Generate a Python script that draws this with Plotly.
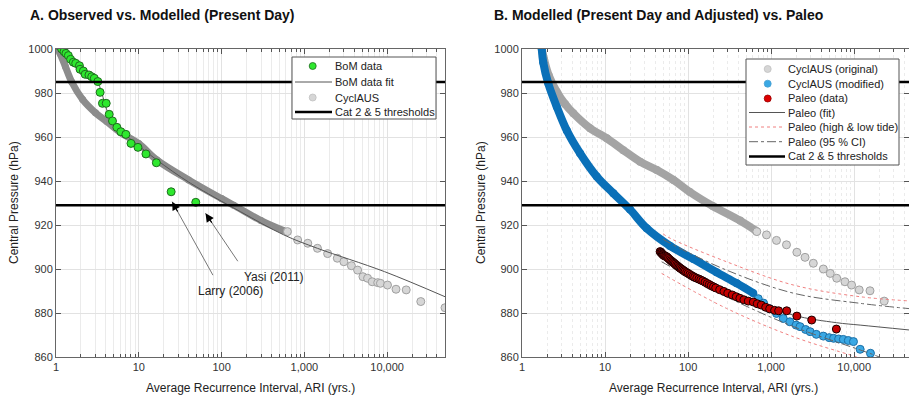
import numpy as np
import plotly.graph_objects as go

FONT = "Liberation Sans"
W, H = 909, 401

# ---------------- data: panel A ----------------
bom_ari = [1.17, 1.25, 1.32, 1.41, 1.5, 1.62, 1.73, 1.92, 1.95, 2.14, 2.25, 2.5, 2.7, 2.9, 3.2,
           3.41, 3.64, 4.04, 4.39, 4.81, 5.44, 6.08, 6.98, 8.05, 9.78, 12.2, 16.3, 24.6, 48.8]
bom_p = [1000, 998.8, 998, 997, 995.3, 994, 993.5, 992.4, 990.8, 990, 988.5, 988.2, 987.4, 986.7, 985.2,
         980.3, 975.3, 975.3, 970.3, 967.3, 964.4, 962.4, 961.2, 957.1, 955.3, 952.3, 948.3, 935.1, 930.3]

bomfit_ari = [1.0, 1.12, 1.62, 2.35, 3.1, 3.58, 4.11, 4.73, 5.97, 8.66, 16.6, 42, 170, 565, 1440, 9300, 50000]
bomfit_p = [1000, 999.5, 994.2, 989.7, 985.9, 979.8, 972.3, 967.7, 963.2, 957.9, 949.5, 939, 926, 915.5, 909.4, 898.8, 887.4]

cycA_band_ari = [1.05, 1.12, 1.3, 1.55, 2.1, 3.0, 4.1, 6, 10, 16.6, 40, 100, 140, 300, 560]
cycA_band_p = [1000, 998, 992, 985, 977, 971, 967, 962, 957, 949.5, 940.5, 932, 929, 922, 917.5]
cycA_pts_ari = [625, 830, 1100, 1440, 1910, 2500, 3000, 3700, 4400, 5100, 5800, 6600, 7700, 8300,
                10100, 12800, 17000, 25500, 50000]
cycA_pts_p = [917, 913.2, 911.7, 909.4, 907, 904.9, 903.3, 901.5, 899.5, 896.5, 895.8, 894.2, 893.8,
              893.5, 892.7, 890.8, 890.5, 885.2, 882.4]

thresholds = [985, 929]

# ---------------- data: panel B ----------------
orig_band_ari = [1.73, 1.85, 2.1, 2.62, 3.3, 4.15, 6.6, 10.5, 16.6, 26.4, 42, 66.5, 105, 200, 423, 650]
orig_band_p = [1000, 995, 988, 980.6, 975, 970.8, 964, 959.4, 954, 948.8, 945, 940.5, 935, 928.5, 922, 917.5]
orig_pts_ari = [672, 880, 1160, 1530, 2040, 2560, 3220, 4250, 5150, 6160, 7740, 9300, 11500, 15500, 23000]
orig_pts_p = [917, 915.5, 913, 911, 907.6, 905.3, 902.6, 900, 898, 895.8, 894.2, 892.7, 890.5, 890.1, 885.4]

mod_band_ari = [1.73, 1.8, 2.07, 2.62, 3.46, 5, 7.95, 12.6, 20, 31.7, 60.6, 116, 220, 385, 610]
mod_band_p = [1000, 994, 984.4, 973.8, 963, 952.6, 942, 934.4, 927, 918.5, 910.5, 904.5, 898.5, 893.5, 889]
mod_pts_ari = [700, 810, 950, 1160, 1400, 1680, 2000, 2230, 2600, 2950, 3500, 4250, 5000, 5650, 6500,
               7400, 8500, 9800, 11800, 15700]
mod_pts_p = [886.5, 884.5, 882, 879.8, 877.5, 876, 874.5, 873.8, 872.5, 871.5, 870.3, 869.5, 868.8, 868.5,
             868.2, 868, 867.5, 867, 863.5, 861.7]

paleo_ari = [46, 47, 48, 49, 50, 51, 52, 53.5, 55, 56.5, 58, 60, 62, 64, 66, 68, 70, 72.5, 75, 77.5, 80,
             83, 86, 89, 92, 96, 100, 105, 110, 115, 120, 127, 135, 142, 150, 160, 170, 180, 190, 202, 215,
             240, 270, 300, 340, 380, 420, 470, 530, 610, 680, 760, 860, 960, 1100, 1230, 1540, 2040, 3080, 6100]
paleo_p = [907.9, 907.6, 907.2, 906.8, 906.5, 906.2, 906, 905.8, 905.6, 905.2, 904.8, 904.3, 903.8, 903.4,
           903, 902.6, 902.2, 901.7, 901.3, 900.8, 900.4, 900, 899.6, 899.2, 898.8, 898.4, 898, 897.5, 897,
           896.6, 896.2, 895.8, 895.4, 895, 894.6, 894, 893.4, 892.9, 892.4, 891.9, 891.4,
           890.6, 889.8, 889, 888.2, 887.4, 886.7, 886, 885.4, 885, 884.2, 883.6, 882.6, 881.9, 881.2, 881,
           881, 878.6, 876.8, 872.7]

pfit_ari = [48, 116, 460, 1860, 6100, 11800, 45700]
pfit_p = [905.5, 898, 887.4, 879, 875.6, 874.5, 872.3]

tide_hi_ari = [50, 60.6, 290, 1860, 11800, 45700]
tide_hi_p = [916, 914, 903.3, 892.7, 887.4, 885.5]
tide_lo_ari = [48, 290, 1860, 9800, 20000]
tide_lo_p = [898, 882.1, 869.2, 860.5, 857]

ci_hi_ari = [50, 60.6, 290, 1860, 11800, 45700]
ci_hi_p = [913.5, 911.7, 899.5, 889, 884.4, 882]
ci_lo_ari = [48, 290, 1860, 11800, 18600, 30000]
ci_lo_p = [903.3, 887.4, 873.8, 863.2, 860.5, 857]

tick_vals = [1, 10, 100, 1000, 10000]
tick_text = ["1", "10", "100", "1,000", "10,000"]
y_ticks = [860, 880, 900, 920, 940, 960, 980, 1000]

legend_a = ["BoM data", "BoM data fit", "CyclAUS", "Cat 2 & 5 thresholds"]
legend_b = ["CyclAUS (original)", "CyclAUS (modified)", "Paleo (data)", "Paleo (fit)",
            "Paleo (high & low tide)", "Paleo (95 % CI)", "Cat 2 & 5 thresholds"]

XMAX_A = 50000
XMAX_B = 10 ** 4.66

# ---------------- styles ----------------
GRAY_BAND_A = "#8c8c8c"
GRAY_BAND_B = "#a4a4a4"
GRAY_FILL = "#d6d6d6"
GRAY_EDGE = "#a0a0a0"
GREEN = "#2ee82e"
GREEN_EDGE = "#1f6b1f"
BLUE_BAND = "#0a70b8"
BLUE_FILL = "#3aa8e4"
BLUE_EDGE = "#1c6fa6"
RED = "#c40000"
RED_EDGE = "#1a0000"
FIT_GRAY = "#555555"
TIDE = "#f08080"
CI = "#666666"

fig = go.Figure()

# Panel A
fig.add_trace(go.Scatter(x=cycA_band_ari, y=cycA_band_p, mode="lines+markers",
                         line=dict(color=GRAY_BAND_A, width=7, shape="spline"),
                         marker=dict(size=7, color=GRAY_BAND_A), xaxis="x", yaxis="y"))
fig.add_trace(go.Scatter(x=cycA_pts_ari, y=cycA_pts_p, mode="markers",
                         marker=dict(size=8, color=GRAY_FILL, line=dict(color=GRAY_EDGE, width=1)),
                         xaxis="x", yaxis="y"))
fig.add_trace(go.Scatter(x=bomfit_ari, y=bomfit_p, mode="lines",
                         line=dict(color=FIT_GRAY, width=1, shape="spline"), xaxis="x", yaxis="y"))
fig.add_trace(go.Scatter(x=bom_ari, y=bom_p, mode="markers",
                         marker=dict(size=8, color=GREEN, line=dict(color=GREEN_EDGE, width=1)),
                         xaxis="x", yaxis="y"))
fig.add_trace(go.Scatter(x=[1, XMAX_A, None, 1, XMAX_A],
                         y=[thresholds[0], thresholds[0], None, thresholds[1], thresholds[1]],
                         mode="lines", line=dict(color="black", width=2.5), xaxis="x", yaxis="y"))

# Panel B
fig.add_trace(go.Scatter(x=orig_band_ari, y=orig_band_p, mode="lines+markers",
                         line=dict(color=GRAY_BAND_B, width=8, shape="spline"),
                         marker=dict(size=8, color=GRAY_BAND_B), xaxis="x2", yaxis="y2"))
fig.add_trace(go.Scatter(x=orig_pts_ari, y=orig_pts_p, mode="markers",
                         marker=dict(size=8, color=GRAY_FILL, line=dict(color=GRAY_EDGE, width=1)),
                         xaxis="x2", yaxis="y2"))
fig.add_trace(go.Scatter(x=mod_band_ari, y=mod_band_p, mode="lines+markers",
                         line=dict(color=BLUE_BAND, width=8, shape="spline"),
                         marker=dict(size=8, color=BLUE_BAND), xaxis="x2", yaxis="y2"))
fig.add_trace(go.Scatter(x=mod_pts_ari, y=mod_pts_p, mode="markers",
                         marker=dict(size=8, color=BLUE_FILL, line=dict(color=BLUE_EDGE, width=1)),
                         xaxis="x2", yaxis="y2"))
fig.add_trace(go.Scatter(x=pfit_ari, y=pfit_p, mode="lines",
                         line=dict(color=FIT_GRAY, width=1, shape="spline"), xaxis="x2", yaxis="y2"))
for xs, ys in ((tide_hi_ari, tide_hi_p), (tide_lo_ari, tide_lo_p)):
    fig.add_trace(go.Scatter(x=xs, y=ys, mode="lines",
                             line=dict(color=TIDE, width=1, dash="dot", shape="spline"),
                             xaxis="x2", yaxis="y2"))
for xs, ys in ((ci_hi_ari, ci_hi_p), (ci_lo_ari, ci_lo_p)):
    fig.add_trace(go.Scatter(x=xs, y=ys, mode="lines",
                             line=dict(color=CI, width=1, dash="dashdot", shape="spline"),
                             xaxis="x2", yaxis="y2"))
fig.add_trace(go.Scatter(x=paleo_ari, y=paleo_p, mode="markers",
                         marker=dict(size=8, color=RED, line=dict(color=RED_EDGE, width=1)),
                         xaxis="x2", yaxis="y2"))
fig.add_trace(go.Scatter(x=[1, XMAX_B, None, 1, XMAX_B],
                         y=[thresholds[0], thresholds[0], None, thresholds[1], thresholds[1]],
                         mode="lines", line=dict(color="black", width=2.5), xaxis="x2", yaxis="y2"))

fig.update_traces(showlegend=False, hoverinfo="skip")

# ---------------- axes ----------------
PX = lambda v: v / W
PY = lambda v: 1 - v / H

Y_DOM = [PY(357), PY(49)]


def xaxis(domain, xmax, anchor, minor_dash):
    return dict(type="log", domain=domain, range=[0, np.log10(xmax)], anchor=anchor,
                tickvals=tick_vals, ticktext=tick_text, ticks="inside", ticklen=5,
                tickcolor="#555555", showline=True, linecolor="#666666", linewidth=1,
                mirror="ticks", showgrid=True, gridcolor="#e2e2e2", gridwidth=1,
                minor=dict(ticks="inside", ticklen=3, tickcolor="#555555", showgrid=True,
                           gridcolor="#ebebeb", griddash=minor_dash, dtick="D1"),
                tickfont=dict(family=FONT, size=11, color="#333333"), zeroline=False)


def yaxis(anchor):
    return dict(domain=Y_DOM, range=[860, 1000], anchor=anchor, tickvals=y_ticks,
                ticks="inside", ticklen=5, tickcolor="#555555", showline=True,
                linecolor="#666666", linewidth=1, mirror="ticks", showgrid=True,
                gridcolor="#e2e2e2", tickfont=dict(family=FONT, size=11, color="#333333"),
                zeroline=False)


fig.update_layout(
    width=W, height=H, margin=dict(l=0, r=0, t=0, b=0, autoexpand=False),
    paper_bgcolor="white", plot_bgcolor="white", showlegend=False,
    font=dict(family=FONT, color="#222222"),
    xaxis=xaxis([PX(56), PX(445)], XMAX_A, "y", "solid"),
    yaxis=yaxis("x"),
    xaxis2=xaxis([PX(522), 1.0], XMAX_B, "y2", "dot"),
    yaxis2=yaxis("x2"),
)

# ---------------- text annotations ----------------
ann = []
shapes = []
ann.append(dict(text="<b>A. Observed vs. Modelled (Present Day)</b>", x=PX(28), y=PY(15),
                xref="paper", yref="paper", xanchor="left", yanchor="middle", showarrow=False,
                font=dict(family=FONT, size=14, color="#111111")))
ann.append(dict(text="<b>B. Modelled (Present Day and Adjusted) vs. Paleo</b>", x=PX(492), y=PY(15),
                xref="paper", yref="paper", xanchor="left", yanchor="middle", showarrow=False,
                font=dict(family=FONT, size=14, color="#111111")))
for xc in (PX(14), PX(481)):
    ann.append(dict(text="Central Pressure (hPa)", x=xc, y=PY(203), xref="paper", yref="paper",
                    textangle=-90, showarrow=False, xanchor="center", yanchor="middle",
                    font=dict(family=FONT, size=12, color="#222222")))
for xc in (PX(250), PX(713)):
    ann.append(dict(text="Average Recurrence Interval, ARI (yrs.)", x=xc, y=PY(388), xref="paper",
                    yref="paper", showarrow=False, xanchor="center", yanchor="middle",
                    font=dict(family=FONT, size=12, color="#222222")))

# storm labels with arrows (panel A)
storms = [
    # name, label ARI, label P, head ARI, head P, tail dx, tail dy (px)
    ("Larry (2006)", 128, 890.0, 25.3, 930.6, 41.6, 75.0),
    ("Yasi (2011)", 427, 896.4, 64.0, 925.3, 33.3, 49.4),
]
for name, lx, ly, hx, hy, dx, dy in storms:
    ann.append(dict(text=name, x=np.log10(lx), y=ly, xref="x", yref="y", showarrow=False,
                    font=dict(family=FONT, size=12, color="#222222")))
    ann.append(dict(text="", x=np.log10(hx), y=hy, xref="x", yref="y", showarrow=True,
                    ax=dx, ay=dy, arrowhead=0, arrowwidth=1, arrowcolor="#777777"))
    L = np.hypot(dx, dy)
    ann.append(dict(text="", x=np.log10(hx), y=hy, xref="x", yref="y", showarrow=True,
                    ax=dx / L * 13, ay=dy / L * 13, arrowhead=2, arrowsize=1.4, arrowwidth=1.2,
                    arrowcolor="#000000"))


# ---------------- custom legends (pixel layout) ----------------
def legend_box(x0, y0, x1, y1):
    shapes.append(dict(type="rect", xref="paper", yref="paper", x0=PX(x0), x1=PX(x1),
                       y0=PY(y1), y1=PY(y0), fillcolor="white",
                       line=dict(color="#555555", width=1), layer="above"))


def leg_marker(cx, cy, fill, edge):
    shapes.append(dict(type="circle", xref="paper", yref="paper", xsizemode="pixel",
                       ysizemode="pixel", xanchor=PX(cx), yanchor=PY(cy), x0=-3.5, x1=3.5,
                       y0=-3.5, y1=3.5, fillcolor=fill, line=dict(color=edge, width=0.8),
                       layer="above"))


def leg_line(x0, x1, cy, color, width, dash="solid"):
    shapes.append(dict(type="line", xref="paper", yref="paper", x0=PX(x0), x1=PX(x1),
                       y0=PY(cy), y1=PY(cy), line=dict(color=color, width=width, dash=dash),
                       layer="above"))


def leg_text(tx, cy, text):
    ann.append(dict(text=text, x=PX(tx), y=PY(cy), xref="paper", yref="paper",
                    xanchor="left", yanchor="middle", showarrow=False,
                    font=dict(family=FONT, size=11, color="#222222")))


# Legend A
legend_box(292, 57, 436, 119)
ya = [66, 82, 97.5, 112]
leg_marker(312.7, ya[0], GREEN, GREEN_EDGE)
leg_line(295, 332, ya[1], FIT_GRAY, 1)
leg_marker(312.7, ya[2], GRAY_FILL, "#c0c0c0")
leg_line(295, 332, ya[3], "black", 2.5)
for yy, t in zip(ya, legend_a):
    leg_text(333, yy, t)

# Legend B
legend_box(746, 59, 899, 165)
yb = [69, 83.7, 98.5, 112.5, 127, 141.7, 156.5]
leg_marker(767.7, yb[0], GRAY_FILL, "#c0c0c0")
leg_marker(767.7, yb[1], BLUE_FILL, "#4a9fd0")
leg_marker(767.7, yb[2], "#dd0000", "#990000")
leg_line(749, 785, yb[3], FIT_GRAY, 1)
leg_line(749, 785, yb[4], TIDE, 1, "dot")
leg_line(749, 785, yb[5], CI, 1, "dashdot")
leg_line(749, 785, yb[6], "black", 2.5)
for yy, t in zip(yb, legend_b):
    leg_text(786, yy, t)

fig.update_layout(annotations=ann, shapes=shapes)

fig.write_html("out.html", config={"displayModeBar": False},
               post_script="document.body.style.margin='0';")
